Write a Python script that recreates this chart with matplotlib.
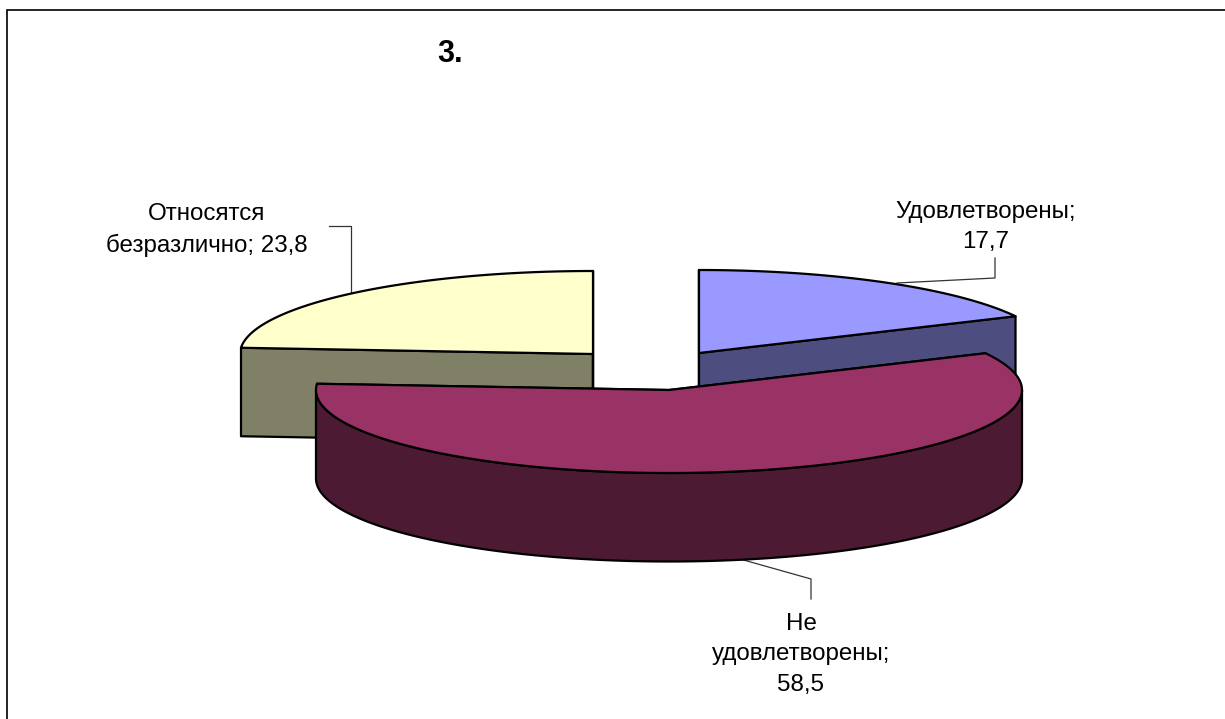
import numpy as np
import matplotlib
matplotlib.use("Agg")
import matplotlib.pyplot as plt

title = "3."
categories = ["Удовлетворены", "Не удовлетворены", "Относятся безразлично"]
values = [17.7, 58.5, 23.8]
value_labels = ["Удовлетворены;\n17,7", "Не\nудовлетворены;\n58,5", "Относятся\nбезразлично; 23,8"]
top_colors = ["#9999FF", "#993366", "#FFFFCC"]
side_colors = ["#4D4D80", "#4D1A33", "#808066"]

centers = [(699, 353), (669, 390), (593, 354)]
RX, RY, DEPTH = 353, 83, 88.5
label_pos = [(985.5, 227), (801, 654), (207, 230)]
leaders = [[(995, 258), (995, 278), (897, 283)],
           [(811, 599), (811, 579), (740, 559)],
           [(329, 226), (351, 226), (351, 294)]]

plt.rcParams["font.family"] = ["Liberation Sans", "DejaVu Sans"]
fig = plt.figure(figsize=(12.25, 7.19), dpi=100)
ax = fig.add_axes([0, 0, 1, 1])
ax.set_xlim(0, 1225)
ax.set_ylim(719, 0)
ax.axis("off")

# frame (left and top edges only are inside the crop)
ax.plot([7, 7, 1225], [719, 10, 10], color="black", lw=1.2, zorder=1, solid_joinstyle="miter")

def arc(c, a0, a1, dy=0):
    t = np.radians(np.linspace(a0, a1, 240))
    return c[0] + RX * np.sin(t), c[1] - RY * np.cos(t) + dy

edges = np.concatenate([[0], np.cumsum(values)]) / sum(values) * 360
EC = dict(edgecolor="black", linewidth=1.6, joinstyle="round")

for i in [2, 0, 1]:
    c, a0, a1 = centers[i], edges[i], edges[i + 1]
    z = 3 + [2, 0, 1].index(i) * 2
    xa, ya = arc(c, a0, a1)
    # radial faces
    for ang in (a0, a1):
        xe, ye = arc(c, ang, ang)
        xe, ye = xe[0], ye[0]
        ax.fill([c[0], xe, xe, c[0]], [c[1], ye, ye + DEPTH, c[1] + DEPTH],
                facecolor=side_colors[i], zorder=z, **EC)
    # outer wall: only the part that faces the viewer
    lo, hi = max(a0, 90), min(a1, 270)
    if lo < hi:
        xs, ys = arc(c, lo, hi)
        xb, yb = arc(c, lo, hi, DEPTH)
        ax.fill(np.r_[xs, xb[::-1]], np.r_[ys, yb[::-1]],
                facecolor=side_colors[i], zorder=z + 0.5, **EC)
    # top face
    ax.fill(np.r_[c[0], xa], np.r_[c[1], ya], facecolor=top_colors[i], zorder=z + 1, **EC)

for pts in leaders:
    xs, ys = zip(*pts)
    ax.plot(xs, ys, color="#333333", lw=0.9, zorder=2)

for lab, (x, y) in zip(value_labels, label_pos):
    ax.text(x, y, lab, ha="center", va="center", fontsize=17.4, color="black",
            linespacing=1.5, zorder=20)

ax.text(450, 53.5, title, ha="center", va="center", fontsize=22, fontweight="bold", zorder=20)

fig.savefig("out.png", dpi=100)
